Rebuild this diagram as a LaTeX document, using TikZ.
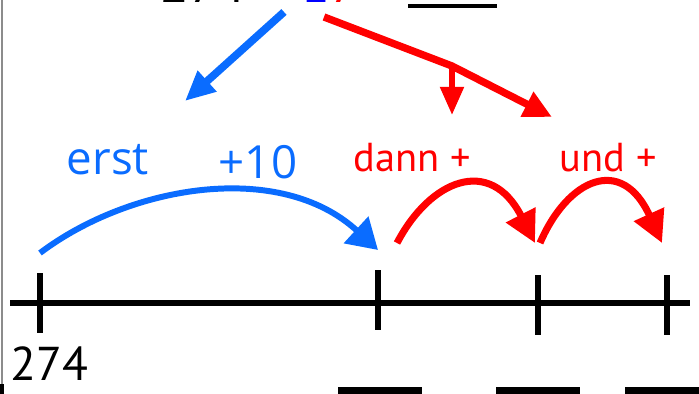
\documentclass[tikz,border=0pt]{standalone}
\usepackage{fontspec}
\setmainfont{Open Sans}
\newfontfamily\kinderfont{PT Sans}
\usetikzlibrary{arrows.meta,positioning}
\definecolor{zblau}{HTML}{0A6CFF}
\definecolor{eblau}{HTML}{0000FF}
\definecolor{erot}{HTML}{FF0000}
\tikzset{
  % Zahlenstrahl
  linie/.style={draw=black,line width=3.4pt},
  strich/.style={rectangle,fill=black,inner sep=0pt,minimum width=2.9pt,
                 minimum height=34pt},
  luecke/.style={draw=black,line width=5.5pt},
  % Spruenge
  zsprung/.style={-{Triangle[length=17pt,width=20pt]},draw=zblau,line width=3.4pt},
  esprung/.style={-{Triangle[length=18pt,width=18pt]},draw=erot,line width=4pt},
  zpfeil/.style={-{Triangle[length=17pt,width=15pt]},draw=zblau,line width=4.4pt},
  epfeil/.style={-{Triangle[length=16pt,width=15pt]},draw=erot,line width=4.2pt},
  kpfeil/.style={-{Triangle[length=16pt,width=13pt]},draw=erot,line width=3.2pt},
  ztext/.style={text=zblau,font=\fontsize{26}{30}\selectfont,inner sep=0pt},
  etext/.style={text=erot,font=\kinderfont\fontsize{23}{27}\selectfont,inner sep=0pt},
}
\begin{document}
\begin{tikzpicture}[x=0.02cm,y=-0.02cm]
  \useasboundingbox (0,0) rectangle (699,394);
  \clip (0,0) rectangle (699,394);
  % Rand
  \draw[black!45,line width=0.6pt] (2,0) -- (2,384);
  \fill[black] (0,384) rectangle (4,394);
  % Aufgabe oben
  \node[anchor=base west,inner sep=0pt,font=\kinderfont\fontsize{30}{34}\selectfont]
    (aufgabe) at (160,3) {274 + {\color{eblau}1}{\color{erot}7} =};
  \draw[black,line width=1.8pt] (408,6) -- (497,6);
  \coordinate (zstart) at (284,12);
  \coordinate (zziel) at (185,101);
  \coordinate (estart) at (324,17);
  \coordinate (eknick) at (452,66);
  \coordinate (eziel) at (552,117);
  \coordinate (kziel) at (452,115);
  \draw[zpfeil] (zstart) -- (zziel);
  \draw[epfeil] (estart) -- (eknick) -- (eziel);
  \draw[kpfeil] (eknick) -- (kziel);
  % Zahlenstrahl
  \coordinate (links) at (10,303);
  \coordinate (rechts) at (690,303);
  \draw[linie] (links) -- (rechts);
  \node[strich] (s0) at (40,303) {};
  \node[strich] (s1) at (378,300) {};
  \node[strich] (s2) at (538,305) {};
  \node[strich] (s3) at (667,305) {};
  \node[anchor=west,inner sep=0pt,font=\kinderfont\fontsize{27}{30}\selectfont]
    (start) at (10,364) {274};
  % Luecken unten
  \draw[luecke] (338,392) -- (422,392);
  \draw[luecke] (496,392) -- (580,392);
  \draw[luecke] (625,392) -- (699,392);
  % Spruenge
  \coordinate (a0) at (40,253);
  \coordinate (a1) at (378,250);
  \coordinate (b0) at (397,243);
  \coordinate (b1) at (535,243);
  \coordinate (c0) at (540,243);
  \coordinate (c1) at (662,243);
  \draw[zsprung] (a0) .. controls (130,185) and (280,160) .. (a1);
  \draw[esprung] (b0) .. controls (430,180) and (490,155) .. (b1);
  \draw[esprung] (c0) .. controls (568,178) and (622,155) .. (c1);
  \node[ztext] (erst) at (108,160) {erst};
  \node[ztext] (zehn) at (258,162) {+10};
  \node[etext] (dann) at (412,158) {dann +};
  \node[etext] (und) at (608,158) {und +};
\end{tikzpicture}
\end{document}
